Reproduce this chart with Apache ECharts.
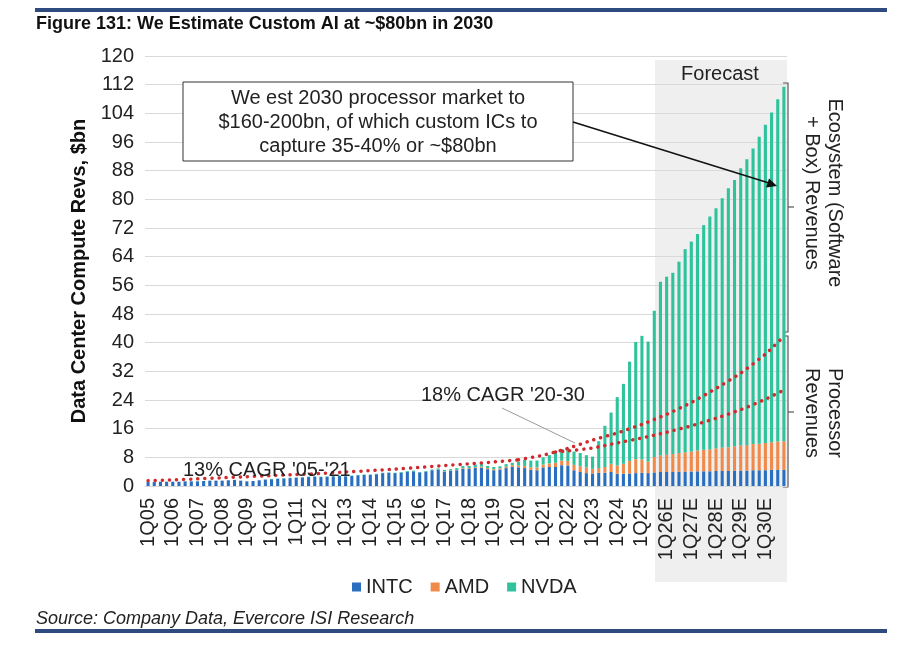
<!DOCTYPE html>
<html>
<head>
<meta charset="utf-8">
<script src="https://cdn.jsdelivr.net/npm/echarts@6/dist/echarts.min.js"></script>
<style>
  html, body { margin: 0; padding: 0; background: #fff; }
  #chart { width: 914px; height: 660px; }
</style>
</head>
<body>
<div id="chart"></div>
<script>
// quarters and years for the category axis
var years = ['05','06','07','08','09','10','11','12','13','14','15','16','17','18','19','20','21','22','23','24','25','26','27','28','29','30'];
var quarters = ['1Q','2Q','3Q','4Q'];
var forecastFrom = '26';

// quarterly revenues, $bn
var intc = [
    1.1, 1.1, 1.2, 1.2,   1.2, 1.2, 1.3, 1.3,   1.3, 1.4, 1.5, 1.5,   1.5, 1.6, 1.7, 1.5,
    1.3, 1.4, 1.6, 1.8,   1.9, 2.0, 2.1, 2.2,   2.3, 2.4, 2.5, 2.6,   2.5, 2.6, 2.7, 2.8,
    2.7, 2.8, 3.0, 3.1,   3.1, 3.3, 3.6, 3.7,   3.6, 3.7, 4.0, 4.1,   3.8, 4.0, 4.4, 4.6,
    4.0, 4.2, 4.4, 4.8,   4.8, 5.1, 5.1, 4.7,   4.4, 4.6, 5.0, 5.3,   5.2, 5.0, 4.5, 4.4,
    5.2, 5.3, 5.3, 5.8,   5.7, 4.4, 3.9, 3.6,   3.5, 3.7, 3.7, 3.9,   3.4, 3.4, 3.5, 3.6,
    3.7, 3.6, 3.8, 3.9,   3.9, 3.9, 4.0, 4.0,   4.0, 4.1, 4.1, 4.1,   4.2, 4.2, 4.2, 4.3,
    4.3, 4.3, 4.4, 4.4,   4.4, 4.5, 4.5, 4.5
];
var amd = [
    0, 0, 0, 0,   0, 0, 0, 0,   0, 0, 0, 0,   0, 0, 0, 0,
    0, 0, 0, 0,   0, 0, 0, 0,   0, 0, 0, 0,   0, 0, 0, 0,
    0, 0, 0, 0,   0, 0, 0, 0,   0, 0, 0, 0,   0, 0, 0, 0,
    0.1, 0.1, 0.1, 0.2,   0.2, 0.2, 0.3, 0.3,   0.3, 0.3, 0.4, 0.5,   0.5, 0.6, 0.7, 0.8,
    0.8, 1.0, 1.2, 1.3,   1.3, 1.5, 1.6, 1.6,   1.3, 1.3, 1.6, 2.3,   2.3, 2.8, 3.5, 3.9,
    3.7, 3.2, 4.3, 4.6,   4.8, 5.0, 5.2, 5.4,   5.6, 5.8, 6.0, 6.1,   6.3, 6.5, 6.6, 6.8,
    7.0, 7.1, 7.3, 7.4,   7.6, 7.7, 7.9, 8.0
];
var nvda = [
    0, 0, 0, 0,   0, 0, 0, 0,   0, 0, 0, 0,   0, 0, 0, 0,
    0, 0, 0, 0,   0.1, 0.1, 0.1, 0.1,   0.1, 0.1, 0.1, 0.1,   0.1, 0.1, 0.1, 0.1,
    0.1, 0.1, 0.1, 0.1,   0.1, 0.1, 0.1, 0.1,   0.1, 0.2, 0.2, 0.2,   0.1, 0.2, 0.2, 0.3,
    0.4, 0.4, 0.5, 0.6,   0.6, 0.7, 0.7, 0.6,   0.6, 0.6, 0.7, 0.7,   1.1, 1.7, 1.9, 1.9,
    2.0, 2.3, 2.8, 3.2,   3.6, 3.7, 3.7, 3.4,   3.4, 7.5, 11.5, 14.3,   19.1, 22.3, 27.7, 32.7,
    34.5, 33.5, 40.8, 48.5,   49.7, 50.6, 53.4, 56.7,   58.6, 60.4, 62.7, 65.0,   67.0, 69.6, 72.3, 74.3,
    77.4, 79.8, 82.5, 85.7,   88.8, 92.0, 95.5, 98.9
];

// dotted trend lines, [quarter index, value] read at points along each line
var trend0521 = [[0,1.5],[4,1.7],[8,2.0],[12,2.3],[16,2.6],[20,2.9],[24,3.2],[28,3.5],[32,3.9],[36,4.3],[40,4.7],[44,5.2],[48,5.7],[52,6.2],[56,6.7],[60,7.3]];
var trendUpper = [[60,7.3],[64,8.6],[68,10.5],[72,12.8],[76,14.8],[80,17.2],[84,20.0],[88,23.3],[92,27.2],[96,31.5],[100,36.8],[103,41.8]];
var trendLower = [[66,9.5],[68,9.8],[72,10.6],[76,12.0],[80,13.4],[84,15.0],[88,16.8],[92,18.9],[96,21.3],[100,24.2],[103,26.8]];

var yTicks = { min: 0, max: 120, step: 8 };

var categories = [];
for (var y = 0; y < years.length; y++) {
    for (var q = 0; q < quarters.length; q++) {
        categories.push(quarters[q] + years[y] + (years[y] >= forecastFrom ? 'E' : ''));
    }
}

var FONT = 'Arial, "Liberation Sans", sans-serif';
var BLUE = '#2a6fbf', ORANGE = '#f08a4b', TEAL = '#2ec39c', RED = '#cf2a2e';

var dotted = {
    color: RED,
    width: 3.5,
    type: [0.1, 7],
    cap: 'round'
};

function barSeries(name, data, color) {
    return {
        name: name,
        type: 'bar',
        stack: 'total',
        barWidth: '50%',
        itemStyle: { color: color },
        data: data,
        z: 2
    };
}

function trendSeries(data) {
    return {
        type: 'line',
        data: data,
        symbol: 'none',
        smooth: 0.2,
        lineStyle: dotted,
        silent: true,
        z: 5
    };
}

var option = {
    animation: false,
    textStyle: { fontFamily: FONT },
    grid: { left: 145, right: 127, top: 56, bottom: 174 },
    legend: {
        data: ['INTC', 'AMD', 'NVDA'],
        left: 347,
        top: 572,
        icon: 'rect',
        itemWidth: 9,
        itemHeight: 9,
        itemGap: 18,
        textStyle: { fontSize: 20, color: '#222', fontFamily: FONT }
    },
    xAxis: {
        type: 'category',
        data: categories,
        axisLine: { show: true, lineStyle: { color: '#d9d9d9' } },
        axisTick: { show: false },
        axisLabel: {
            interval: 3,
            rotate: 90,
            margin: 12,
            fontSize: 20,
            color: '#222'
        }
    },
    yAxis: {
        type: 'value',
        min: yTicks.min,
        max: yTicks.max,
        interval: yTicks.step,
        name: 'Data Center Compute Revs, $bn',
        nameLocation: 'middle',
        nameGap: 50,
        nameTextStyle: { fontSize: 20, fontWeight: 'bold', color: '#111' },
        axisLine: { show: false },
        axisTick: { show: false },
        axisLabel: { fontSize: 20, color: '#222', margin: 11 },
        splitLine: { lineStyle: { color: '#d9d9d9' } }
    },
    series: [
        barSeries('INTC', intc, BLUE),
        barSeries('AMD', amd, ORANGE),
        barSeries('NVDA', nvda, TEAL),
        trendSeries(trend0521),
        trendSeries(trendUpper),
        trendSeries(trendLower)
    ],
    graphic: [
        // forecast shading
        { type: 'rect', z: -1, shape: { x: 655, y: 60, width: 132, height: 522 }, style: { fill: '#efefef' } },
        { type: 'text', x: 720, y: 74, style: { text: 'Forecast', font: '20px ' + FONT, fill: '#222', align: 'center', verticalAlign: 'middle' } },
        // header / footer rules and texts
        { type: 'rect', shape: { x: 35, y: 8, width: 852, height: 4 }, style: { fill: '#2e4b7f' } },
        { type: 'rect', shape: { x: 35, y: 629, width: 852, height: 4 }, style: { fill: '#2e4b7f' } },
        { type: 'text', x: 36, y: 24, style: { text: 'Figure 131: We Estimate Custom AI at ~$80bn in 2030', font: 'bold 18px ' + FONT, fill: '#111', verticalAlign: 'middle' } },
        { type: 'text', x: 36, y: 619, style: { text: 'Source: Company Data, Evercore ISI Research', font: 'italic 18px ' + FONT, fill: '#222', verticalAlign: 'middle' } },
        // callout box with arrow
        { type: 'rect', z: 10, shape: { x: 183, y: 82, width: 390, height: 79 }, style: { fill: '#fff', stroke: '#333', lineWidth: 1 } },
        { type: 'text', z: 11, x: 378, y: 122, style: { text: 'We est 2030 processor market to\n$160-200bn, of which custom ICs to\ncapture 35-40% or ~$80bn', font: '20px ' + FONT, lineHeight: 24, fill: '#222', align: 'center', verticalAlign: 'middle' } },
        { type: 'line', z: 10, shape: { x1: 573, y1: 122, x2: 769, y2: 183 }, style: { stroke: '#111', lineWidth: 1.5 } },
        { type: 'polygon', z: 10, shape: { points: [[777, 186], [766, 187.5], [769, 178.5]] }, style: { fill: '#111' } },
        // CAGR labels
        { type: 'text', z: 10, x: 421, y: 395, style: { text: "18% CAGR '20-30", font: '20px ' + FONT, fill: '#222', verticalAlign: 'middle' } },
        { type: 'line', z: 10, shape: { x1: 502, y1: 408, x2: 575, y2: 443 }, style: { stroke: '#9a9a9a', lineWidth: 1 } },
        { type: 'text', z: 10, x: 183, y: 470, style: { text: "13% CAGR '05-'21", font: '20px ' + FONT, fill: '#222', verticalAlign: 'middle' } },
        // right-side brackets
        { type: 'polyline', shape: { points: [[783, 83], [788, 83], [788, 332], [783, 332]] }, style: { stroke: '#555', lineWidth: 1.2, fill: null } },
        { type: 'line', shape: { x1: 788, y1: 207, x2: 794, y2: 207 }, style: { stroke: '#555', lineWidth: 1.2 } },
        { type: 'polyline', shape: { points: [[783, 336], [788, 336], [788, 487], [783, 487]] }, style: { stroke: '#555', lineWidth: 1.2, fill: null } },
        { type: 'line', shape: { x1: 788, y1: 412, x2: 794, y2: 412 }, style: { stroke: '#555', lineWidth: 1.2 } },
        { type: 'text', x: 823, y: 193, rotation: -Math.PI / 2, style: { text: 'Ecosystem (Software\n+ Box) Revenues', font: '20px ' + FONT, lineHeight: 23, fill: '#222', align: 'center', verticalAlign: 'middle' } },
        { type: 'text', x: 823, y: 413, rotation: -Math.PI / 2, style: { text: 'Processor\nRevenues', font: '20px ' + FONT, lineHeight: 23, fill: '#222', align: 'center', verticalAlign: 'middle' } }
    ]
};

var chart = echarts.init(document.getElementById('chart'));
chart.setOption(option);
</script>
</body>
</html>
